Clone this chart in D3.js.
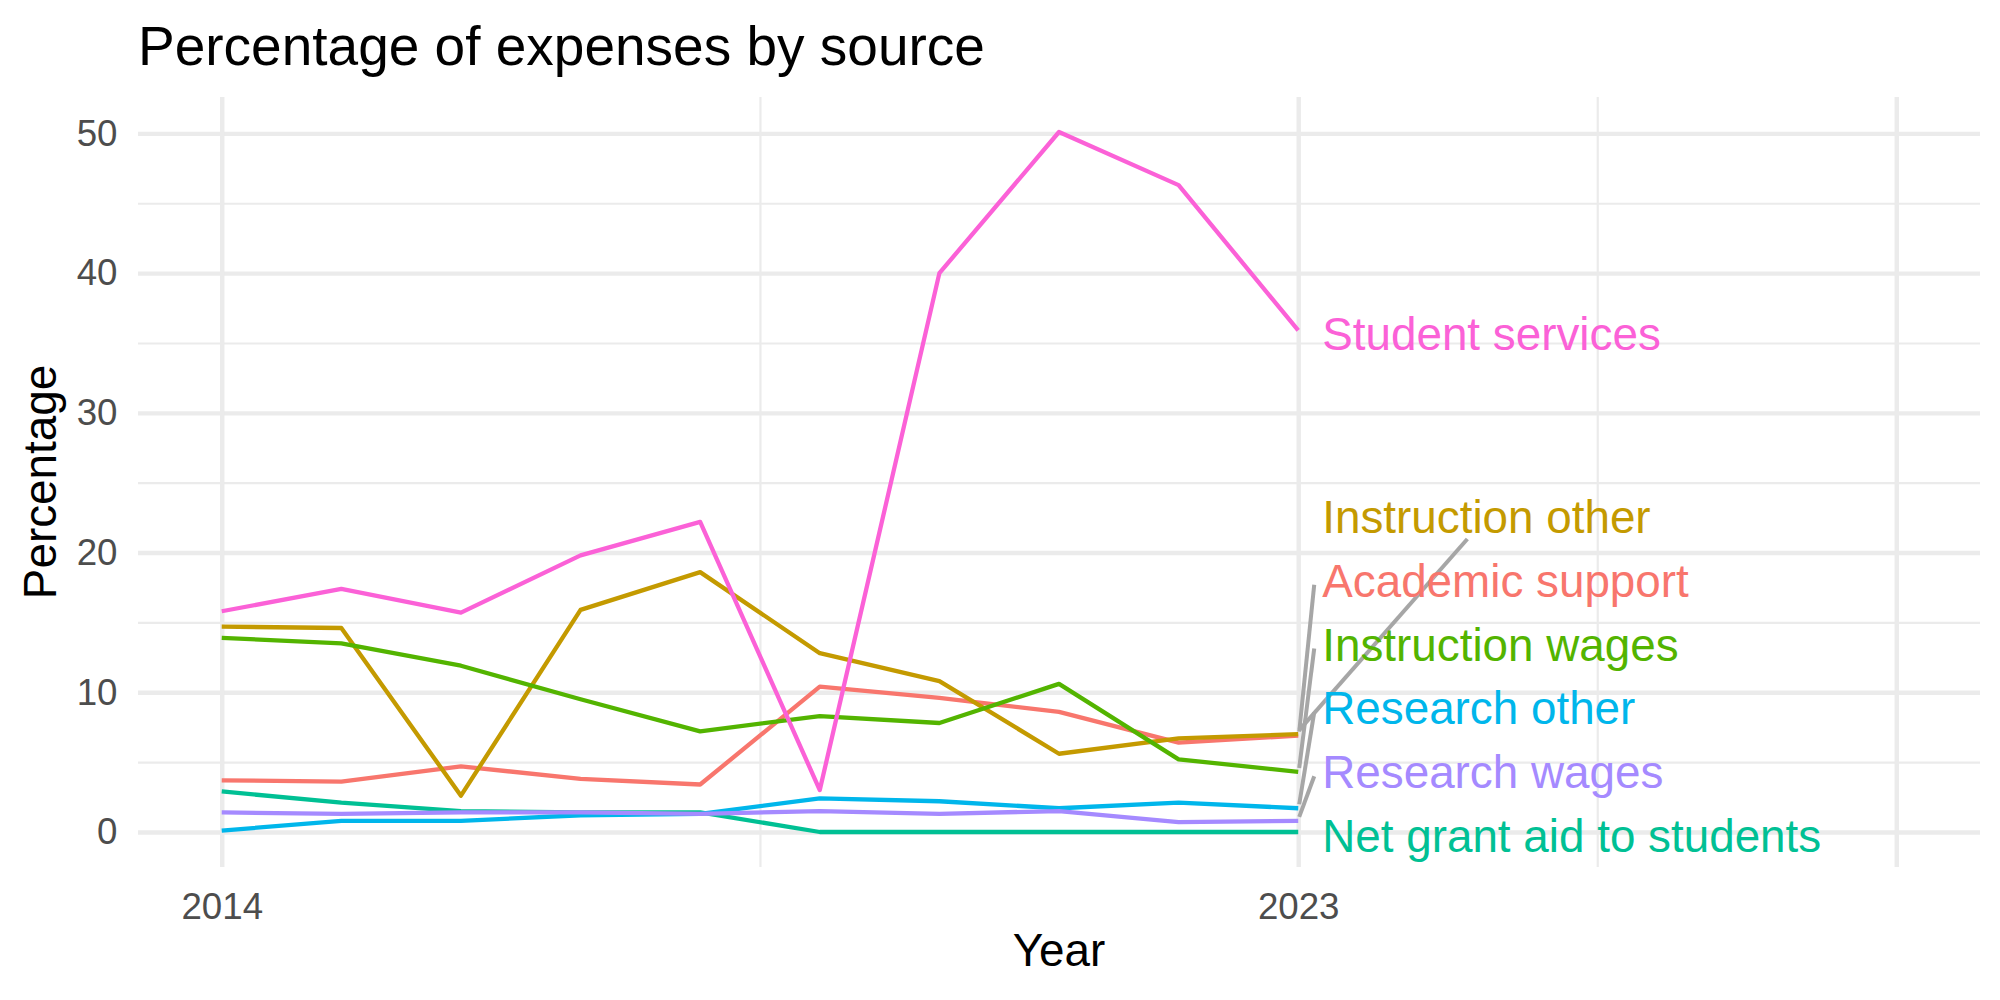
<!DOCTYPE html>
<html>
<head>
<meta charset="utf-8">
<script src="https://cdn.jsdelivr.net/npm/d3@7"></script>
<style>
  body { margin: 0; background: #fff; }
  svg text { font-family: "Liberation Sans", Arial, Helvetica, sans-serif; }
</style>
</head>
<body>
<div id="chart"></div>
<script>
// values, one array per series
const years = [2014, 2015, 2016, 2017, 2018, 2019, 2020, 2021, 2022, 2023];
const academicSupport  = [3.7, 3.6, 4.7, 3.8, 3.4, 10.4, 9.6, 8.6, 6.4, 6.9];
const instructionOther = [14.7, 14.6, 2.6, 15.9, 18.6, 12.8, 10.8, 5.6, 6.7, 7.0];
const instructionWages = [13.9, 13.5, 11.9, 9.5, 7.2, 8.3, 7.8, 10.6, 5.2, 4.3];
const netGrantAid      = [2.9, 2.1, 1.5, 1.4, 1.4, 0, 0, 0, 0, 0];
const researchOther    = [0.1, 0.8, 0.8, 1.2, 1.3, 2.4, 2.2, 1.7, 2.1, 1.7];
const researchWages    = [1.4, 1.3, 1.4, 1.4, 1.3, 1.5, 1.3, 1.5, 0.7, 0.8];
const studentServices  = [15.8, 17.4, 15.7, 19.8, 22.2, 3.0, 40.0, 50.1, 46.3, 35.9];

const seriesNames = ['Academic support', 'Instruction other', 'Instruction wages',
    'Net grant aid to students', 'Research other', 'Research wages', 'Student services'];
const seriesValues = [academicSupport, instructionOther, instructionWages,
    netGrantAid, researchOther, researchWages, studentServices];

const yTicks = [0, 10, 20, 30, 40, 50];
const xTicks = [2014, 2023, 2028];
const xTickLabels = ['2014', '2023', ''];

const titleText = 'Percentage of expenses by source';
const xTitle = 'Year';
const yTitle = 'Percentage';

// ggplot hue palette for 7 groups
const palette = ['#F8766D', '#C49A00', '#53B400', '#00C094', '#00B6EB', '#A58AFF', '#FB61D7'];

const width = 2000, height = 1000;
const padding = {left: 138, top: 97, right: 20, bottom: 133};
const w = width - padding.left - padding.right,
    h = height - padding.top - padding.bottom;

const expand = ([a, b]) => [a - (b - a) * 0.05, b + (b - a) * 0.05];
const midpoints = ticks => d3.pairs(ticks).map(([a, b]) => (a + b) / 2);

let series = seriesNames.map((name, i) => ({name, values: seriesValues[i]}));
let color = d3.scaleOrdinal().domain(seriesNames).range(palette);

let x = d3.scaleLinear()
    .domain(expand([years[0], xTicks[xTicks.length - 1]]))
    .range([0, w]);
let y = d3.scaleLinear()
    .domain(expand([0, d3.max(seriesValues, v => d3.max(v))]))
    .range([h, 0]);

let svg = d3.select('#chart')
    .append('svg')
    .attr('width', width)
    .attr('height', height);
let group = svg.append('g')
    .attr('transform', `translate(${padding.left}, ${padding.top})`);

// minor grid
group.append('g')
    .attr('class', 'grid-minor')
    .call(d3.axisLeft(y).tickValues(midpoints(yTicks)).tickSize(-w).tickFormat(''));
group.append('g')
    .attr('class', 'grid-minor')
    .attr('transform', `translate(0, ${h})`)
    .call(d3.axisBottom(x).tickValues(midpoints(xTicks)).tickSize(-h).tickFormat(''));

// major grid + tick labels
let yAxis = group.append('g')
    .attr('class', 'y-axis')
    .call(d3.axisLeft(y).tickValues(yTicks).tickSizeInner(-w).tickSizeOuter(0).tickPadding(20.5));
let xAxis = group.append('g')
    .attr('class', 'x-axis')
    .attr('transform', `translate(0, ${h})`)
    .call(d3.axisBottom(x).tickValues(xTicks).tickSizeInner(-h).tickSizeOuter(0).tickPadding(26)
        .tickFormat((d, i) => xTickLabels[i]));

svg.selectAll('.domain').remove();
svg.selectAll('.grid-minor line').attr('stroke', '#EBEBEB').attr('stroke-width', 2.2);
svg.selectAll('.x-axis line, .y-axis line').attr('stroke', '#EBEBEB').attr('stroke-width', 4.4);
svg.selectAll('.x-axis text, .y-axis text')
    .attr('fill', '#4D4D4D')
    .style('font-size', '36.7px')
    .style('font-family', '"Liberation Sans", Arial, sans-serif');

// lines
let line = d3.line()
    .x((d, i) => x(years[i]))
    .y(d => y(d));
group.append('g')
    .selectAll('path')
    .data(series)
    .join('path')
    .attr('d', d => line(d.values))
    .attr('fill', 'none')
    .attr('stroke', d => color(d.name))
    .attr('stroke-width', 4.3)
    .attr('stroke-linejoin', 'round');

// end labels, pushed apart vertically (like ggrepel)
let last = years.length - 1;
let endX = x(years[last]);
let labelX = endX + 24;
let spacing = 63.8;
let prev = Infinity;
series.slice()
    .sort((a, b) => a.values[last] - b.values[last])
    .forEach(s => {
        s.py = y(s.values[last]);
        s.ly = Math.min(s.py + 4, prev - spacing);
        prev = s.ly;
    });

let segGroup = group.append('g');
let labels = group.append('g')
    .selectAll('text')
    .data(series)
    .join('text')
    .attr('x', labelX)
    .attr('y', d => d.ly)
    .attr('dy', '0.35em')
    .attr('fill', d => color(d.name))
    .style('font-size', '45.8px')
    .text(d => d.name);

labels.each(function(d) { d.tw = this.getComputedTextLength(); });

series.filter(s => Math.abs(s.ly - s.py) > 30).forEach(s => {
    let x2, y2;
    if (s.py - s.ly > 190) {
        // far away: aim at label centre, stop at bottom of its box
        let cx = labelX + s.tw / 2, bottom = s.ly + 22;
        let t = (s.py - bottom) / (s.py - s.ly);
        x2 = endX + t * (cx - endX);
        y2 = bottom;
    } else {
        x2 = labelX - 8;
        y2 = s.ly + 4;
    }
    segGroup.append('line')
        .attr('x1', endX + 1)
        .attr('y1', s.py - 4)
        .attr('x2', x2)
        .attr('y2', y2)
        .attr('stroke', '#A6A6A6')
        .attr('stroke-width', 4);
});

// titles
svg.append('text')
    .attr('x', padding.left)
    .attr('y', 65)
    .style('font-size', '55px')
    .text(titleText);
svg.append('text')
    .attr('x', padding.left + w / 2)
    .attr('y', 966)
    .attr('text-anchor', 'middle')
    .style('font-size', '45.8px')
    .text(xTitle);
svg.append('text')
    .attr('transform', `translate(56, ${padding.top + h / 2}) rotate(-90)`)
    .attr('text-anchor', 'middle')
    .style('font-size', '45.8px')
    .text(yTitle);
</script>
</body>
</html>
